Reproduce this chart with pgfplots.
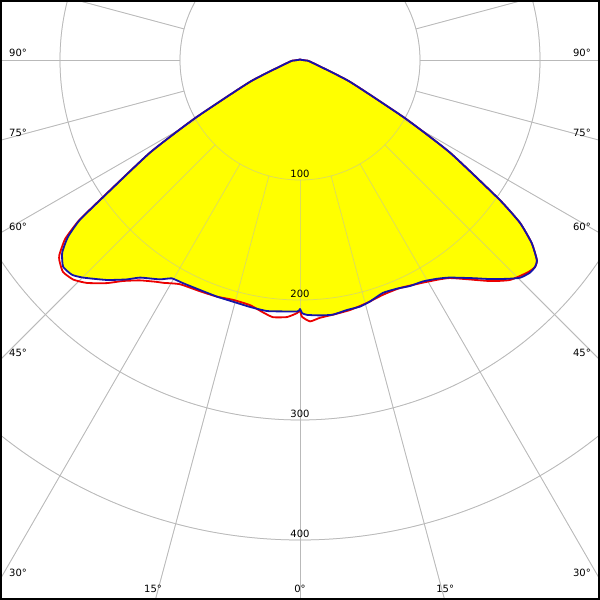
\documentclass[border=0pt]{standalone}
\usepackage{fontspec}
\setmainfont{DejaVu Sans}
\usepackage{pgfplots}
\usepackage{pgfplotstable}
\pgfplotsset{compat=1.18}
\definecolor{gridgray}{RGB}{185,185,185}
\definecolor{curveblue}{RGB}{20,20,170}
\definecolor{curvered}{RGB}{235,0,0}
\definecolor{fillyellow}{RGB}{255,255,0}

% angle (deg from nadir), intensity (cd)
\pgfplotstableread{
a I
-180 0.5
-100 1
-90 2
-85 5
-80 9
-66.5 45
-61 100
-58.3 147
-55 203
-54 227
-52.7 243
-51 255
-48.9 262
-46.7 261
-44.9 256
-41.3 244
-38.3 233
-36.3 225
-32.6 217
-30.4 211
-27.7 210
-23.5 209
-19.3 209
-15.5 209
-11.4 210
-7.5 211
-3.9 210
-0.5 209.5
0 207.5
0.5 211
1.6 212.5
4.5 213.5
7.4 214
10.6 212
13.7 211.5
16.2 209.5
19.6 206
23 207
26 209.5
29 211
32 215
34.5 220
38.4 232
40.9 241.5
43.4 251
45.3 258
47.2 261
48.6 261
49.8 258.5
51.7 246
53.5 228
55 203
58.3 147
61 100
66.5 45
80 9
85 5
90 2
100 1
180 0.5
}\bluedata

\pgfplotstableread{
a I
-180 0.5
-100 1
-90 2
-85 5
-80 9
-66.5 45
-61 100
-58.3 147
-55 204
-54 228
-52.7 246
-51 258
-50.2 261
-48.2 265
-45.9 263
-43.7 257
-40.9 246
-38.7 236
-36 227
-32.8 220
-31.6 218
-28.2 212
-23.4 210
-19.3 209
-15.6 207.5
-11.5 208.5
-8.4 212.5
-6 215.5
-2.9 214.5
-0.7 211
0 209
0.45 214
2.2 218
4.4 215.5
7.4 214
11.3 212.5
15.4 210
19.5 207.5
23.7 207.5
29.8 213
34.5 220.5
40.7 243
43.7 253.5
47 259.5
48.6 261
49.8 258.5
51.7 246
53.5 228
55 203
58.3 147
61 100
66.5 45
80 9
85 5
90 2
100 1
180 0.5
}\reddata

\tikzset{lbl/.style={font=\fontsize{10}{12}\selectfont, text=black, inner sep=0pt}}

\begin{document}
\begin{tikzpicture}
\begin{axis}[name=ax, scale only axis, width=600pt, height=600pt,
  xmin=-250, xmax=250, ymin=-450, ymax=50, hide axis, clip=true]
% grid (under)
\pgfplotsinvokeforeach{100,200,300,400}{
  \draw[gridgray, line width=0.75pt] (axis cs:0,0) circle[radius=#1];
}
\pgfplotsinvokeforeach{-165,-150,-135,-120,-105,-90,-75,-60,-45,-30,-15,0,15,30,45,60,75,90,105,120,135,150,165}{
  \draw[gridgray, line width=0.75pt] (axis cs:{100*sin(#1)},{-100*cos(#1)}) -- (axis cs:{900*sin(#1)},{-900*cos(#1)});
}
% fill
\addplot[draw=none, fill=fillyellow, smooth, tension=0.3] table[x expr={\thisrow{I}*sin(\thisrow{a})}, y expr={-\thisrow{I}*cos(\thisrow{a})}] {\bluedata};
% grid (over, faint)
\pgfplotsinvokeforeach{100,200,300,400}{
  \draw[gridgray, line width=0.75pt, opacity=0.5] (axis cs:0,0) circle[radius=#1];
}
\pgfplotsinvokeforeach{-165,-150,-135,-120,-105,-90,-75,-60,-45,-30,-15,0,15,30,45,60,75,90,105,120,135,150,165}{
  \draw[gridgray, line width=0.75pt, opacity=0.5] (axis cs:{100*sin(#1)},{-100*cos(#1)}) -- (axis cs:{900*sin(#1)},{-900*cos(#1)});
}
% curves
\addplot[curvered, line width=1.8pt, line join=round, smooth, tension=0.3] table[x expr={\thisrow{I}*sin(\thisrow{a})}, y expr={-\thisrow{I}*cos(\thisrow{a})}] {\reddata};
\addplot[curveblue, line width=1.8pt, line join=round, smooth, tension=0.3] table[x expr={\thisrow{I}*sin(\thisrow{a})}, y expr={-\thisrow{I}*cos(\thisrow{a})}] {\bluedata};
% value labels
\node[lbl, anchor=south] at (axis cs:0,-98) {100};
\node[lbl, anchor=south] at (axis cs:0,-198) {200};
\node[lbl, anchor=south] at (axis cs:0,-298) {300};
\node[lbl, anchor=south] at (axis cs:0,-398) {400};
% angle labels left
\node[lbl, anchor=west] at (rel axis cs:0.015,0.9117) {90°};
\node[lbl, anchor=west] at (rel axis cs:0.015,0.778) {75°};
\node[lbl, anchor=west] at (rel axis cs:0.015,0.622) {60°};
\node[lbl, anchor=west] at (rel axis cs:0.015,0.412) {45°};
\node[lbl, anchor=west] at (rel axis cs:0.015,0.045) {30°};
% angle labels right
\node[lbl, anchor=east] at (rel axis cs:0.985,0.9117) {90°};
\node[lbl, anchor=east] at (rel axis cs:0.985,0.778) {75°};
\node[lbl, anchor=east] at (rel axis cs:0.985,0.622) {60°};
\node[lbl, anchor=east] at (rel axis cs:0.985,0.412) {45°};
\node[lbl, anchor=east] at (rel axis cs:0.985,0.045) {30°};
% bottom
\node[lbl] at (rel axis cs:0.255,0.018) {15°};
\node[lbl] at (rel axis cs:0.5,0.018) {0°};
\node[lbl] at (rel axis cs:0.742,0.018) {15°};
\end{axis}
\draw[black, line width=2pt] ([shift={(1pt,1pt)}]ax.south west) rectangle ([shift={(-1pt,-1pt)}]ax.north east);
\pgfresetboundingbox
\path (ax.south west) rectangle (ax.north east);
\end{tikzpicture}
\end{document}
